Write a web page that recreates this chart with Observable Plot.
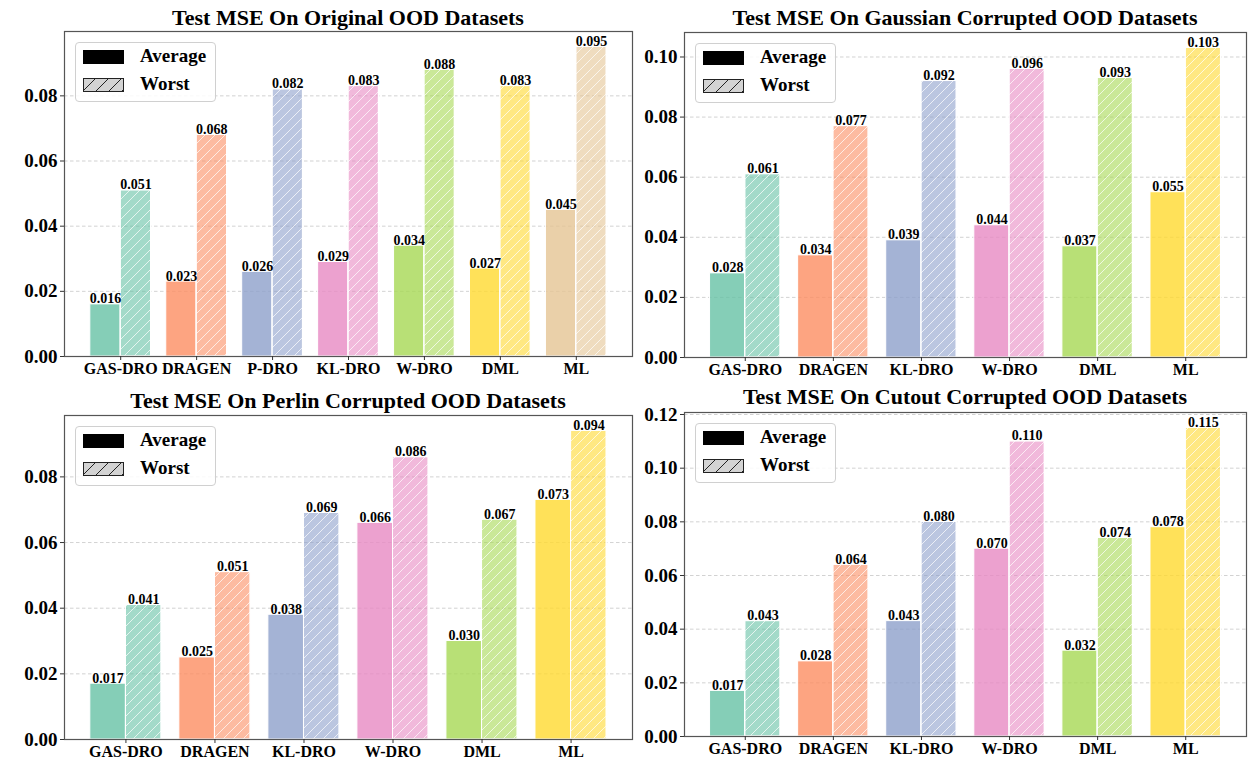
<!DOCTYPE html>
<html>
<head>
<meta charset="utf-8">
<script src="https://cdn.jsdelivr.net/npm/d3@7"></script>
<script src="https://cdn.jsdelivr.net/npm/@observablehq/plot@0.6"></script>
<style>
  html, body { margin: 0; padding: 0; background: #fff; }
  #root { position: relative; width: 1248px; height: 761px; overflow: hidden; font-family: "Liberation Serif", "Times New Roman", serif; }
  #root svg, #root svg text { font-family: "Liberation Serif", "Times New Roman", serif !important; font-weight: bold; }
  .panel { position: absolute; }
  .title { position: absolute; left: 0; white-space: nowrap; text-align: center; font: bold 22px/22px "Liberation Serif", serif; color: #000; }
  .legend { position: absolute; width: 141px; height: 60px; box-sizing: border-box; border: 1px solid #d0d0d0; border-radius: 4px; background: rgba(255,255,255,0.85); font: bold 19px "Liberation Serif", serif; }
  .legend .row { position: absolute; left: 7px; height: 14px; width: 130px; }
  .legend .sw { position: absolute; left: 0; top: 0; width: 41px; height: 14px; box-sizing: border-box; }
  .legend .lab { position: absolute; left: 57px; top: -4px; line-height: 20px; color: #000; }
</style>
</head>
<body>
<svg width="0" height="0" style="position:absolute">
  <defs>
    <pattern id="hatch" patternUnits="userSpaceOnUse" width="10" height="10">
      <path d="M-2.5,2.5 l5,-5 M0,10 l10,-10 M7.5,12.5 l5,-5" stroke="white" stroke-opacity="0.7" stroke-width="1"/>
    </pattern>
    <pattern id="hatchDark" patternUnits="userSpaceOnUse" width="13" height="13">
      <path d="M-3,3 l6,-6 M0,13 l13,-13 M10,16 l6,-6" stroke="#222" stroke-width="1"/>
    </pattern>
  </defs>
</svg>
<div id="root"></div>
<script>
// ---------- data ----------
const palette = ["#66c2a5", "#fc8d62", "#8da0cb", "#e78ac3", "#a6d854", "#ffd92f", "#e5c494"];

const titleOriginal = "Test MSE On Original OOD Datasets";
const catsOriginal = ["GAS-DRO", "DRAGEN", "P-DRO", "KL-DRO", "W-DRO", "DML", "ML"];
const avgOriginal = [0.016, 0.023, 0.026, 0.029, 0.034, 0.027, 0.045];
const worstOriginal = [0.051, 0.068, 0.082, 0.083, 0.088, 0.083, 0.095];

const titleGaussian = "Test MSE On Gaussian Corrupted OOD Datasets";
const catsGaussian = ["GAS-DRO", "DRAGEN", "KL-DRO", "W-DRO", "DML", "ML"];
const avgGaussian = [0.028, 0.034, 0.039, 0.044, 0.037, 0.055];
const worstGaussian = [0.061, 0.077, 0.092, 0.096, 0.093, 0.103];

const titlePerlin = "Test MSE On Perlin Corrupted OOD Datasets";
const catsPerlin = ["GAS-DRO", "DRAGEN", "KL-DRO", "W-DRO", "DML", "ML"];
const avgPerlin = [0.017, 0.025, 0.038, 0.066, 0.030, 0.073];
const worstPerlin = [0.041, 0.051, 0.069, 0.086, 0.067, 0.094];

const titleCutout = "Test MSE On Cutout Corrupted OOD Datasets";
const catsCutout = ["GAS-DRO", "DRAGEN", "KL-DRO", "W-DRO", "DML", "ML"];
const avgCutout = [0.017, 0.028, 0.043, 0.070, 0.032, 0.078];
const worstCutout = [0.043, 0.064, 0.080, 0.110, 0.074, 0.115];

const yTicks008 = [0, 0.02, 0.04, 0.06, 0.08];
const yTicks010 = [0, 0.02, 0.04, 0.06, 0.08, 0.10];
const yTicks012 = [0, 0.02, 0.04, 0.06, 0.08, 0.10, 0.12];

const legendLabels = ["Average", "Worst"];

// ---------- drawing ----------
const FONT = "Liberation Serif";
const root = document.getElementById("root");

function panel(cfg) {
  const {title, cats, avg, worst, yTicks, left, top, width, height, mt, mb, ml, mr, titleTop} = cfg;
  const n = cats.length;
  const rows = cats.map((c, i) => ({i, cat: c, avg: avg[i], worst: worst[i], color: palette[i]}));
  const lo = -0.4, hi = n - 1 + 0.4, m = (hi - lo) * 0.05;
  const ymax = d3.max(worst) * 1.05;
  const fmt = d3.format(".3f");

  const plot = Plot.plot({
    width, height,
    marginTop: mt, marginBottom: mb, marginLeft: ml, marginRight: mr,
    style: {fontFamily: FONT, fontWeight: "bold", background: "transparent", overflow: "visible"},
    x: {domain: [lo - m, hi + m], axis: null},
    y: {domain: [0, ymax], axis: null},
    color: {type: "identity"},
    marks: [
      Plot.gridY(yTicks, {stroke: "#b8b8b8", strokeOpacity: 0.8, strokeDasharray: "3.5,2.5", strokeWidth: 0.8}),
      Plot.rectY(rows, {x1: d => d.i - 0.4, x2: d => d.i, y: "avg", fill: "color", fillOpacity: 0.8, stroke: "white", strokeWidth: 1}),
      Plot.rectY(rows, {x1: d => d.i, x2: d => d.i + 0.4, y: "worst", fill: "color", fillOpacity: 0.6, stroke: "white", strokeWidth: 1}),
      Plot.rectY(rows, {x1: d => d.i, x2: d => d.i + 0.4, y: "worst", fill: "url(#hatch)", stroke: "white", strokeWidth: 1}),
      Plot.text(rows, {x: d => d.i - 0.2, y: "avg", text: d => fmt(d.avg), lineAnchor: "bottom", dy: -1, fontSize: 14, fontWeight: "bold", fontFamily: FONT, fill: "black"}),
      Plot.text(rows, {x: d => d.i + 0.2, y: "worst", text: d => fmt(d.worst), lineAnchor: "bottom", dy: -1, fontSize: 14, fontWeight: "bold", fontFamily: FONT, fill: "black"}),
      Plot.frame({stroke: "#555", strokeWidth: 1.2}),
      Plot.axisY({ticks: yTicks, tickFormat: d3.format(".2f"), tickSize: 4, tickPadding: 3, fontSize: 19, fontWeight: "bold", fontFamily: FONT, label: null, stroke: "#333"}),
      Plot.axisX({ticks: d3.range(n), tickFormat: i => cats[i], tickSize: 4, tickPadding: 2, fontSize: 16, fontWeight: "bold", fontFamily: FONT, label: null, stroke: "#333"})
    ]
  });

  const wrap = document.createElement("div");
  wrap.className = "panel";
  wrap.style.left = left + "px";
  wrap.style.top = top + "px";
  wrap.style.width = width + "px";
  wrap.style.height = height + "px";
  wrap.appendChild(plot);

  // title (centred over the frame)
  const t = document.createElement("div");
  t.className = "title";
  t.style.left = ml + "px";
  t.style.width = (width - ml - mr) + "px";
  t.style.top = titleTop + "px";
  t.textContent = title;
  wrap.appendChild(t);

  // legend
  const lg = document.createElement("div");
  lg.className = "legend";
  lg.style.left = (ml + 11) + "px";
  lg.style.top = (mt + 11) + "px";
  legendLabels.forEach((lab, k) => {
    const row = document.createElement("div");
    row.className = "row";
    row.style.top = (k === 0 ? 7 : 35) + "px";
    const sw = document.createElement("div");
    sw.className = "sw";
    if (k === 0) {
      sw.style.background = "#000";
    } else {
      sw.innerHTML = '<svg width="41" height="14" style="display:block"><rect x="0.5" y="0.5" width="40" height="13" fill="#d3d3d3" stroke="#222" stroke-width="1"/><rect x="0.5" y="0.5" width="40" height="13" fill="url(#hatchDark)" stroke="none"/></svg>';
    }
    const tx = document.createElement("div");
    tx.className = "lab";
    tx.textContent = lab;
    row.appendChild(sw);
    row.appendChild(tx);
    lg.appendChild(row);
  });
  wrap.appendChild(lg);
  root.appendChild(wrap);
}

panel({title: titleOriginal, cats: catsOriginal, avg: avgOriginal, worst: worstOriginal, yTicks: yTicks008,
  left: 0, top: 0, width: 634, height: 382, mt: 31, mb: 26, ml: 64, mr: 2, titleTop: 7});
panel({title: titleGaussian, cats: catsGaussian, avg: avgGaussian, worst: worstGaussian, yTicks: yTicks010,
  left: 634, top: 0, width: 614, height: 382, mt: 32, mb: 25, ml: 50, mr: 2, titleTop: 7});
panel({title: titlePerlin, cats: catsPerlin, avg: avgPerlin, worst: worstPerlin, yTicks: yTicks008,
  left: 0, top: 382, width: 634, height: 379, mt: 33, mb: 22, ml: 64, mr: 2, titleTop: 8});
panel({title: titleCutout, cats: catsCutout, avg: avgCutout, worst: worstCutout, yTicks: yTicks012,
  left: 634, top: 382, width: 614, height: 379, mt: 30, mb: 25, ml: 50, mr: 2, titleTop: 4});
</script>
</body>
</html>
